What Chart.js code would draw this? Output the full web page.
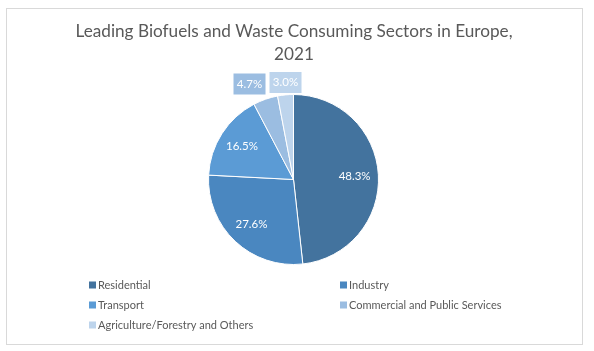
<!DOCTYPE html>
<html>
<head>
<meta charset="utf-8">
<script src="https://cdn.jsdelivr.net/npm/chart.js@4"></script>
<style>
  body { margin: 0; background: #fff; }
  #wrap { width: 594px; height: 351px; position: relative; }
</style>
</head>
<body>
<div id="wrap"><canvas id="chart" width="594" height="351"></canvas></div>
<script>
const titleLines = ["Leading Biofuels and Waste Consuming Sectors in Europe,", "2021"];
const sectors = ["Residential", "Industry", "Transport", "Commercial and Public Services", "Agriculture/Forestry and Others"];
const shares = [48.3, 27.6, 16.5, 4.7, 3.0];
const sliceColors = ["#43739E", "#4A87C0", "#5B9BD5", "#9BBDE1", "#BDD4EC"];

const FONT = "Lato, 'Open Sans', sans-serif";
const TEXT_GREY = "#595959";

// frame + title + legend drawn on the canvas
const decorPlugin = {
  id: "decor",
  beforeDraw(chart) {
    const ctx = chart.ctx;
    ctx.save();
    ctx.fillStyle = "#fff";
    ctx.fillRect(0, 0, chart.width, chart.height);
    ctx.strokeStyle = "#D9D9D9";
    ctx.lineWidth = 1;
    ctx.strokeRect(6.5, 8.5, 576, 336);
    ctx.fillStyle = TEXT_GREY;
    ctx.font = "17.2px " + FONT;
    ctx.textAlign = "center";
    ctx.textBaseline = "alphabetic";
    ctx.fillText(titleLines[0], 294, 37);
    ctx.fillText(titleLines[1], 294, 60);
    ctx.restore();
  },
  afterDraw(chart) {
    const ctx = chart.ctx;
    ctx.save();
    ctx.font = "11px " + FONT;
    ctx.textBaseline = "middle";
    ctx.textAlign = "left";
    const cols = [89, 340];
    const rows = [285, 305, 325];
    sectors.forEach((name, i) => {
      const x = cols[i % 2];
      const y = rows[Math.floor(i / 2)];
      ctx.fillStyle = sliceColors[i];
      ctx.fillRect(x, y - 3.5, 7, 7);
      ctx.fillStyle = TEXT_GREY;
      ctx.fillText(name, x + 9, y + 0.5);
    });
    ctx.restore();
  }
};

// percentage labels: inside for big slices, boxed above the pie for small ones
const labelPlugin = {
  id: "sliceLabels",
  afterDatasetsDraw(chart) {
    const ctx = chart.ctx;
    const meta = chart.getDatasetMeta(0);
    ctx.save();
    ctx.font = "11.5px " + FONT;
    ctx.textAlign = "center";
    ctx.textBaseline = "middle";
    let leftLimit = Infinity;
    for (let i = meta.data.length - 1; i >= 0; i--) {
      const arc = meta.data[i];
      const text = shares[i].toFixed(1) + "%";
      const mid = (arc.startAngle + arc.endAngle) / 2;
      if (shares[i] >= 10) {
        const r = arc.outerRadius * 0.72;
        ctx.fillStyle = "#fff";
        ctx.fillText(text, arc.x + Math.cos(mid) * r, arc.y + Math.sin(mid) * r);
      } else {
        const w = 32, h = 21;
        let cx = arc.x + Math.cos(mid) * arc.outerRadius;
        if (cx + w / 2 > leftLimit - 4) cx = leftLimit - 4 - w / 2;
        const cy = arc.y - arc.outerRadius - 12 + (i === 3 ? 1.5 : 0);
        ctx.fillStyle = sliceColors[i];
        ctx.fillRect(cx - w / 2, cy - h / 2, w, h);
        ctx.fillStyle = "#fff";
        ctx.fillText(text, cx, cy);
        leftLimit = cx - w / 2;
      }
    }
    ctx.restore();
  }
};

new Chart(document.getElementById("chart"), {
  type: "pie",
  data: {
    labels: sectors,
    datasets: [{
      data: shares,
      backgroundColor: sliceColors,
      borderColor: "#ffffff",
      borderWidth: 1
    }]
  },
  options: {
    responsive: false,
    animation: false,
    layout: { padding: { top: 94, bottom: 86, left: 0, right: 7 } },
    plugins: {
      legend: { display: false },
      title: { display: false },
      tooltip: { enabled: false }
    }
  },
  plugins: [decorPlugin, labelPlugin]
});
</script>
</body>
</html>
